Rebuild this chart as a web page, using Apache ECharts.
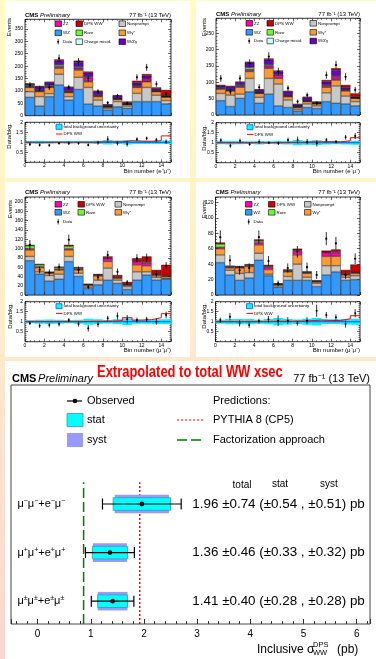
<!DOCTYPE html>
<html><head><meta charset="utf-8">
<script src="https://cdn.jsdelivr.net/npm/echarts/dist/echarts.min.js"></script>
<style>
html,body{margin:0;padding:0;width:376px;height:659px;overflow:hidden;
background:linear-gradient(180deg,#fffcc6 0%,#fff4c6 28%,#ffedc9 48%,#ffe4cf 62%,#fdd6d2 100%);}
.card{position:absolute;background:#fff;}
#c{position:absolute;left:0;top:0;width:376px;height:659px;}
</style></head><body>
<div class="card" style="left:5px;top:1px;width:185px;height:177px"></div>
<div class="card" style="left:196px;top:1px;width:180px;height:177px"></div>
<div class="card" style="left:5px;top:182px;width:185px;height:175px"></div>
<div class="card" style="left:196px;top:182px;width:180px;height:175px"></div>
<div class="card" style="left:5px;top:361px;width:371px;height:298px"></div>
<div id="c"></div>
<script>
// ---------------- DATA ----------------
const bins = ['0','1','2','3','4','5','6','7','8','9','10','11','12','13','14'];

// Panel A : e+mu+
const A_wz   = [74,39,77,124,63,106,47,39,23,36,30,57,57,57,48];
const A_np   = [23,38,12,43,14,49,67,24,7,21,9,33,57,26,13];
const A_wgs  = [17,20,25,24,16,29,23,14,5,9,6,24,23,14,14];
const A_cm   = [2,2,2,3,2,3,3,2,1,1,1,2,2,1,1];
const A_zz   = [3,3,3,5,3,6,14,4,2,3,2,5,10,3,2];
const A_rare = [4,2,4,6,2,4,3,2,1,1,1,2,2,1,1];
const A_wg   = [5,13,11,17,14,19,16,12,4,9,4,10,10,6,3];
const A_dps  = [2,3,3,5,3,6,5,4,3,3,4,8,7,6,22];
const A_data = [124,110,114,231,114,218,150,97,52,79,50,155,195,128,87];
const A_ratio= [0.90,0.87,0.85,0.95,0.95,0.95,0.87,0.98,1.15,0.95,0.92,1.15,1.20,1.12,1.03];
const A_unc  = [0.07,0.08,0.07,0.06,0.07,0.06,0.07,0.08,0.11,0.09,0.11,0.08,0.08,0.08,0.09];
const A_dpsR = [1.0,1.0,1.0,1.0,1.0,1.0,1.0,1.02,1.02,1.02,1.08,1.06,1.05,1.08,1.32];

// Panel B : e-mu-
const B_wz   = [44,26,51,71,36,64,28,23,12,23,20,41,36,34,28];
const B_np   = [22,35,13,41,18,48,67,23,5,11,8,27,53,24,13];
const B_wgs  = [13,13,21,21,12,31,17,10,6,7,6,17,18,16,10];
const B_cm   = [2,1,2,2,1,2,2,1,1,1,1,2,2,1,1];
const B_zz   = [2,2,3,5,2,6,9,3,2,2,1,5,9,3,1];
const B_rare = [2,1,2,6,1,3,2,1,1,1,1,2,2,1,1];
const B_wg   = [5,9,8,14,7,15,8,10,5,8,2,8,17,6,2];
const B_dps  = [2,2,2,3,2,4,3,3,2,3,2,5,6,7,10];
const B_data = [112,71,112,158,85,179,133,82,41,61,36,122,153,117,77];
const B_ratio= [1.12,0.85,1.10,0.92,1.05,1.00,0.97,1.13,1.13,1.05,0.97,1.13,1.05,1.27,1.33];
const B_unc  = [0.08,0.09,0.08,0.07,0.09,0.07,0.08,0.09,0.13,0.10,0.12,0.09,0.08,0.09,0.10];
const B_dpsR = [1.0,1.0,1.0,1.0,1.0,1.0,1.0,1.02,1.02,1.04,1.04,1.05,1.04,1.10,1.25];

// Panel C : mu+mu+
const C_wz   = [74,45,30,34,72,40,14,22,32,25,12,32,43,32,34];
const C_np   = [9,5,12,11,11,7,3,10,26,7,6,18,7,6,2];
const C_wgs  = [14,9,5,9,14,7,4,9,14,4,3,15,13,4,4];
const C_zz   = [3,2,1,2,3,2,1,2,7,2,1,7,6,2,1];
const C_rare = [6,4,1,3,5,2,1,1,1,1,1,1,2,1,1];
const C_dps  = [2,2,1,2,3,2,1,1,3,4,5,6,12,9,23];
const C_data = [108,54,48,60,119,54,17,38,86,50,27,79,80,45,63];
const C_ratio= [0.92,0.80,0.83,0.88,1.08,0.88,0.67,0.87,1.17,1.28,1.12,1.08,1.12,1.00,1.33];
const C_unc  = [0.08,0.10,0.11,0.10,0.08,0.10,0.15,0.12,0.09,0.12,0.16,0.10,0.10,0.12,0.12];
const C_dpsR = [1.0,1.0,1.0,1.0,1.0,1.0,1.02,1.02,1.03,1.05,1.20,1.08,1.10,1.20,1.40];

// Panel D : mu-mu-
const D_wz   = [42,26,19,22,45,25,10,19,19,19,11,26,30,19,20];
const D_np   = [10,6,9,7,9,2,2,5,21,4,4,12,8,4,5];
const D_wgs  = [8,3,7,8,11,6,1.5,6,12,5,2,12,12,3,3];
const D_zz   = [2,1,1,1,3,3,0.5,1,5,1,0.5,5,5,1,1];
const D_rare = [4,1,0.5,1,2,1,0.5,1,1,0.5,0.5,0.5,1,0.5,0.5];
const D_dps  = [2,1,1,1,2,2,0.5,1,2,1,1,2,3,5,10];
const D_data = [75,45,32,35,75,44,15,35,56,36,26,73,67,26,47];
const D_ratio= [1.08,1.25,0.92,0.83,1.03,1.12,1.05,1.05,0.92,1.05,1.55,1.33,1.22,0.88,1.42];
const D_unc  = [0.10,0.13,0.13,0.13,0.10,0.13,0.18,0.14,0.11,0.15,0.19,0.12,0.12,0.14,0.15];
const D_dpsR = [1.0,1.0,1.0,1.0,1.0,1.02,1.02,1.02,1.03,1.05,1.08,1.06,1.06,1.15,1.30];

// Bottom summary plot
const chanSign  = ['±','+','−'];          // rows 0,1,2 (bottom to top)
const xsec      = [1.41,1.36,1.96];
const errTotal  = [0.40,0.46,0.74];
const errStat   = [0.28,0.33,0.54];
const errSyst   = [0.28,0.32,0.51];
const pythiaPred = 1.92;
const factPred   = 0.865;

// ---------------- STYLE / LAYOUT ----------------
const F = "'Liberation Sans', Arial, Helvetica, sans-serif";
const compDefs = [
  {k:'wz',   name:'WZ',            color:'#3399ff'},
  {k:'np',   name:'Nonprompt',     color:'#c8c8c8'},
  {k:'wgs',  name:'Wγ*',           color:'#ff9933'},
  {k:'cm',   name:'Charge misid.', color:'#ccffff'},
  {k:'zz',   name:'ZZ',            color:'#ff00aa'},
  {k:'rare', name:'Rare',          color:'#66ff33'},
  {k:'wg',   name:'W/Zγ',          color:'#6600cc'},
  {k:'dps',  name:'DPS WW',        color:'#cc0000'}
];
const colorOf = {}; compDefs.forEach(c => colorOf[c.name] = c.color);

const panelData = [
  {comps:{wz:A_wz,np:A_np,wgs:A_wgs,cm:A_cm,zz:A_zz,rare:A_rare,wg:A_wg,dps:A_dps}, data:A_data, ratio:A_ratio, unc:A_unc, dpsR:A_dpsR, label:'Bin number (e⁺μ⁺)', full:true},
  {comps:{wz:B_wz,np:B_np,wgs:B_wgs,cm:B_cm,zz:B_zz,rare:B_rare,wg:B_wg,dps:B_dps}, data:B_data, ratio:B_ratio, unc:B_unc, dpsR:B_dpsR, label:'Bin number (e⁻μ⁻)', full:true},
  {comps:{wz:C_wz,np:C_np,wgs:C_wgs,zz:C_zz,rare:C_rare,dps:C_dps}, data:C_data, ratio:C_ratio, unc:C_unc, dpsR:C_dpsR, label:'Bin number (μ⁺μ⁺)', full:false},
  {comps:{wz:D_wz,np:D_np,wgs:D_wgs,zz:D_zz,rare:D_rare,dps:D_dps}, data:D_data, ratio:D_ratio, unc:D_unc, dpsR:D_dpsR, label:'Bin number (μ⁻μ⁻)', full:false}
];
const panelLayout = [
  {left:25,    top:19.3, width:146,   height:96.4, rTop:122.3, rH:40, ymax:389, yint:50, evX:9.5, evY:18,  dbY:123, legCols:[30,51,94], legRows:[4.4,13.5,22.4]},
  {left:216,   top:18.3, width:144,   height:96.7, rTop:122.7, rH:40, ymax:296, yint:50, evX:204, evY:18,  dbY:125, legCols:[30,51,94], legRows:[5,14,22.7]},
  {left:25,    top:197,  width:146,   height:98,   rTop:301.7, rH:40, ymax:211, yint:20, evX:10,  evY:200, dbY:303, legCols:[30,53,90], legRows:[7.3,15.3,24.7]},
  {left:215.5, top:197,  width:144.5, height:98,   rTop:301.7, rH:40, ymax:127, yint:20, evX:204, evY:200, dbY:303, legCols:[30,53,89], legRows:[7.3,15.3,24.7]}
];
const legFull  = [['ZZ','DPS WW','Nonprompt'],['WZ','Rare','Wγ*'],['Data','Charge misid.','W/Zγ']];
const legShort = [['ZZ','DPS WW','Nonprompt'],['WZ','Rare','Wγ*'],['Data']];

const option = {animation:false, grid:[], xAxis:[], yAxis:[], series:[], graphic:[]};
const G = option.graphic;

function txt(x, y, text, st, extra){
  return Object.assign({type:'text', x:x, y:y, z:100, silent:true,
    style:Object.assign({text:text, fill:'#000', fontFamily:F, fontSize:6,
      align:'left', textAlign:'left', verticalAlign:'middle', textVerticalAlign:'middle'}, st||{})}, extra||{});
}
function gridDef(l,t,w,h,bc,bw){
  return {left:l, top:t, width:w, height:h, show:true, borderColor:bc, borderWidth:bw,
          backgroundColor:'rgba(0,0,0,0)', containLabel:false, outerBoundsMode:'none'};
}
function valX(g,pos,labels){
  return {type:'value', gridIndex:g, position:pos, min:0, max:15, interval:2,
    axisLine:{show:false, onZero:false},
    axisTick:{show:true, inside:true, length:3, lineStyle:{color:'#000', width:0.6}},
    minorTick:{show:true, splitNumber:4, length:1.5, lineStyle:{color:'#000', width:0.5}},
    splitLine:{show:false}, minorSplitLine:{show:false},
    axisLabel:{show:labels, fontSize:5, margin:1, color:'#000', fontFamily:F,
      formatter:v => (v < 15 && Math.abs(v % 2) < 1e-6) ? String(v) : ''}};
}
function valY(g,pos,labels,min,max,intv,minor){
  return {type:'value', gridIndex:g, position:pos, min:min, max:max, interval:intv,
    axisLine:{show:false, onZero:false},
    axisTick:{show:true, inside:true, length:3, lineStyle:{color:'#000', width:0.6}},
    minorTick:{show:true, splitNumber:minor, length:1.5, lineStyle:{color:'#000', width:0.5}},
    splitLine:{show:false}, minorSplitLine:{show:false},
    axisLabel:{show:labels, fontSize:5, margin:2, color:'#000', fontFamily:F,
      formatter:v => {
        if (v === 0 && max <= 2) return '';
        const q = v / intv; return Math.abs(q - Math.round(q)) < 1e-6 ? String(+v.toFixed(2)) : '';
      }}};
}
function errRender(r){
  return function(params, api){
    const x = api.value(0), y = api.value(1), e = api.value(2);
    const p = api.coord([x,y]), lo = api.coord([x,y-e]), hi = api.coord([x,y+e]);
    return {type:'group', children:[
      {type:'line', shape:{x1:p[0], y1:lo[1], x2:p[0], y2:hi[1]}, style:{stroke:'#000', lineWidth:0.8}},
      {type:'circle', shape:{cx:p[0], cy:p[1], r:r}, style:{fill:'#000'}}
    ]};
  };
}
function bandRender(params, api){
  const i = api.value(0), u = api.value(1);
  const a = api.coord([i, 1+u]), b = api.coord([i+1, 1-u]);
  return {type:'rect', shape:{x:a[0], y:a[1], width:b[0]-a[0], height:b[1]-a[1]}, style:{fill:'#00f0ff'}};
}

panelData.forEach((pd, pi) => {
  const L = panelLayout[pi];
  const gm = option.grid.length, gr = gm + 1;
  option.grid.push(gridDef(L.left, L.top, L.width, L.height, '#000', 0.8));
  option.grid.push(gridDef(L.left, L.rTop, L.width, L.rH, '#000', 0.8));
  const xi = option.xAxis.length;
  option.xAxis.push({type:'category', gridIndex:gm, data:bins, show:false, boundaryGap:true});
  option.xAxis.push(valX(gm,'bottom',false));
  option.xAxis.push(valX(gm,'top',false));
  option.xAxis.push(valX(gr,'bottom',true));
  option.xAxis.push(valX(gr,'top',false));
  const yi = option.yAxis.length;
  option.yAxis.push(valY(gm,'left',true,0,L.ymax,L.yint,5));
  option.yAxis.push(valY(gm,'right',false,0,L.ymax,L.yint,5));
  option.yAxis.push(valY(gr,'left',true,0,2,0.5,5));
  option.yAxis.push(valY(gr,'right',false,0,2,0.5,5));

  compDefs.forEach(c => {
    const arr = pd.comps[c.k]; if (!arr) return;
    option.series.push({type:'bar', name:c.name, xAxisIndex:xi, yAxisIndex:yi, stack:'s'+gm,
      data:arr, barCategoryGap:'0%', barGap:'0%', silent:true,
      itemStyle:{color:c.color, borderColor:'#000', borderWidth:0.4}});
  });
  option.series.push({type:'custom', xAxisIndex:xi+1, yAxisIndex:yi, silent:true, z:5,
    data:pd.data.map((d,i)=>[i+0.5, d, Math.sqrt(d)]), renderItem:errRender(1.1)});
  // ratio panel
  option.series.push({type:'custom', xAxisIndex:xi+3, yAxisIndex:yi+2, silent:true, clip:true,
    data:pd.unc.map((u,i)=>[i,u]), renderItem:bandRender});
  option.series.push({type:'line', xAxisIndex:xi+3, yAxisIndex:yi+2, silent:true, symbol:'none',
    data:[[0,1],[15,1]], lineStyle:{color:'#1a4dff', width:1}});
  option.series.push({type:'line', step:'end', xAxisIndex:xi+3, yAxisIndex:yi+2, silent:true, symbol:'none',
    data:pd.dpsR.map((v,i)=>[i,v]).concat([[15, pd.dpsR[pd.dpsR.length-1]]]),
    lineStyle:{color:'#ff0000', width:1}});
  option.series.push({type:'custom', xAxisIndex:xi+3, yAxisIndex:yi+2, silent:true, z:5,
    data:pd.ratio.map((r,i)=>[i+0.5, r, r/Math.sqrt(pd.data[i])]), renderItem:errRender(1)});

  // texts
  const right = L.left + L.width;
  G.push(txt(L.left, L.top-4.2, '{b|CMS} {i|Preliminary}', {rich:{
    b:{fontWeight:'bold', fontSize:6, fontFamily:F, fill:'#000'},
    i:{fontStyle:'italic', fontSize:6, fontFamily:F, fill:'#000'}}}));
  G.push(txt(right, L.top-4.2, '77 fb⁻¹ (13 TeV)', {align:'right', textAlign:'right', fontSize:6}));
  G.push(txt(L.evX, L.evY, 'Events', {align:'right', textAlign:'right', fontSize:6}, {rotation:Math.PI/2}));
  G.push(txt(L.evX, L.dbY, 'Data/bkg.', {align:'right', textAlign:'right', fontSize:6}, {rotation:Math.PI/2}));
  G.push(txt(right, L.rTop+L.rH+9, pd.label, {align:'right', textAlign:'right', fontSize:6}));

  // legend
  const rows = pd.full ? legFull : legShort;
  rows.forEach((row, ri) => row.forEach((nm, ci) => {
    const x = L.left + L.legCols[ci], y = L.top + L.legRows[ri];
    if (nm === 'Data') {
      G.push({type:'line', z:100, silent:true, shape:{x1:x+3.2, y1:y-2.8, x2:x+3.2, y2:y+2.8}, style:{stroke:'#000', lineWidth:0.7}});
      G.push({type:'circle', z:100, silent:true, shape:{cx:x+3.2, cy:y, r:1}, style:{fill:'#000'}});
    } else {
      G.push({type:'rect', z:100, silent:true, shape:{x:x, y:y-2.8, width:6.5, height:5.6}, style:{fill:colorOf[nm], stroke:'#000', lineWidth:0.6}});
    }
    G.push(txt(x+8, y, nm, {fontSize:4.4}));
  }));
  const rx = L.left + 31, ry = L.rTop + 4.5;
  G.push({type:'rect', z:100, silent:true, shape:{x:rx, y:ry-2.5, width:6, height:5}, style:{fill:'#00ffff', stroke:'#1a4dff', lineWidth:0.8}});
  G.push(txt(rx+7.5, ry, 'total background uncertainty', {fontSize:4.4}));
  G.push({type:'line', z:100, silent:true, shape:{x1:rx, y1:ry+7.2, x2:rx+6.5, y2:ry+7.2}, style:{stroke:'#ff0000', lineWidth:1}});
  G.push(txt(rx+7.5, ry+7.2, 'DPS WW', {fontSize:4.4}));
});

// ---------------- bottom summary plot ----------------
const gb = option.grid.length;
option.grid.push(gridDef(11, 385, 359, 239, '#444', 1));
const xb = option.xAxis.length;
option.xAxis.push({type:'value', gridIndex:gb, position:'bottom', min:-0.5, max:6.25, splitNumber:7,
  axisLine:{show:false, onZero:false},
  axisTick:{show:true, inside:true, length:5, lineStyle:{color:'#333', width:1}},
  minorTick:{show:true, splitNumber:5, length:3, lineStyle:{color:'#333', width:1}},
  splitLine:{show:false}, minorSplitLine:{show:false},
  axisLabel:{fontSize:10, margin:5, color:'#000', fontFamily:F,
    formatter:v => Math.abs(v - Math.round(v)) < 1e-6 ? String(Math.round(v)) : ''}});
const yb = option.yAxis.length;
option.yAxis.push({type:'value', gridIndex:gb, min:-0.47, max:4.45, show:false,
  axisLine:{onZero:false}, splitLine:{show:false}});

const rowsData = xsec.map((v,i)=>[v, i, errTotal[i], errStat[i], errSyst[i]]);
option.series.push({type:'line', xAxisIndex:xb, yAxisIndex:yb, silent:true, symbol:'none', z:3,
  data:[[pythiaPred,-0.47],[pythiaPred,2.45]], lineStyle:{color:'#ff0000', width:1.5, type:[2,2]}});
option.series.push({type:'line', xAxisIndex:xb, yAxisIndex:yb, silent:true, symbol:'none', z:3,
  data:[[factPred,-0.47],[factPred,2.45]], lineStyle:{color:'#007a00', width:1.5, type:[10,4]}});
option.series.push({type:'custom', xAxisIndex:xb, yAxisIndex:yb, silent:true, z:4, data:rowsData,
  renderItem:function(params, api){
    const v=api.value(0), r=api.value(1), t=api.value(2), st=api.value(3), sy=api.value(4);
    const c = api.coord([v,r]);
    const syL = api.coord([v-sy,r])[0], syR = api.coord([v+sy,r])[0];
    const stL = api.coord([v-st,r])[0], stR = api.coord([v+st,r])[0];
    const tL = api.coord([v-t,r])[0], tR = api.coord([v+t,r])[0];
    return {type:'group', children:[
      {type:'rect', shape:{x:syL, y:c[1]-9.3, width:syR-syL, height:18.6}, style:{fill:'#9999ff'}},
      {type:'rect', shape:{x:stL, y:c[1]-6.3, width:stR-stL, height:12.6}, style:{fill:'#00ffff', stroke:'#3a9aa8', lineWidth:0.8}},
      {type:'line', shape:{x1:tL, y1:c[1], x2:tR, y2:c[1]}, style:{stroke:'#000', lineWidth:1.2}},
      {type:'line', shape:{x1:tL, y1:c[1]-5.5, x2:tL, y2:c[1]+5.5}, style:{stroke:'#000', lineWidth:1.2}},
      {type:'line', shape:{x1:tR, y1:c[1]-5.5, x2:tR, y2:c[1]+5.5}, style:{stroke:'#000', lineWidth:1.2}},
      {type:'circle', shape:{cx:c[0], cy:c[1], r:2.4}, style:{fill:'#000'}}
    ]};
  }});
option.series.push({type:'custom', xAxisIndex:xb, yAxisIndex:yb, silent:true, z:6, data:rowsData,
  renderItem:function(params, api){
    const i = params.dataIndex, r = api.value(1);
    const s = chanSign[i];
    const pl = api.coord([-0.38, r]), pv = api.coord([2.91, r]);
    const sup = '{s|' + s + '}';
    return {type:'group', children:[
      {type:'text', x:pl[0], y:pl[1], style:{text:'μ'+sup+'μ'+sup+'+e'+sup+'μ'+sup,
        fontFamily:F, fontSize:11, fill:'#000', align:'left', textAlign:'left', verticalAlign:'middle', textVerticalAlign:'middle',
        lineHeight:13, rich:{s:{fontSize:7, fontFamily:F, fill:'#000', verticalAlign:'top', lineHeight:8}}}},
      {type:'text', x:pv[0], y:pv[1], style:{text:
        xsec[i].toFixed(2)+' ±'+errTotal[i].toFixed(2)+' (±'+errStat[i].toFixed(2)+' , ±'+errSyst[i].toFixed(2)+') pb',
        fontFamily:F, fontSize:13.4, fill:'#000', align:'left', textAlign:'left', verticalAlign:'middle', textVerticalAlign:'middle'}}
    ]};
  }});

// bottom texts
G.push(txt(12, 378.5, '{b|CMS} {i|Preliminary}', {rich:{
  b:{fontWeight:'bold', fontSize:11, fontFamily:F, fill:'#000'},
  i:{fontStyle:'italic', fontSize:11, fontFamily:F, fill:'#000'}}}));
G.push(txt(97, 373, 'Extrapolated to total WW xsec', {fontSize:16, fontWeight:'bold', fill:'#ff0000'}, {scaleX:0.81}));
G.push(txt(370, 378.5, '77 fb⁻¹ (13 TeV)', {fontSize:11, align:'right', textAlign:'right'}));
// legend
G.push({type:'line', z:100, silent:true, shape:{x1:67, y1:401, x2:82, y2:401}, style:{stroke:'#000', lineWidth:1.2}});
G.push({type:'circle', z:100, silent:true, shape:{cx:75, cy:401, r:2.3}, style:{fill:'#000'}});
G.push(txt(87, 401, 'Observed', {fontSize:11}));
G.push({type:'rect', z:100, silent:true, shape:{x:67, y:413.5, width:16, height:13}, style:{fill:'#00ffff', stroke:'#3a9aa8', lineWidth:0.8}});
G.push(txt(87, 420, 'stat', {fontSize:11}));
G.push({type:'rect', z:100, silent:true, shape:{x:67, y:433, width:16, height:14}, style:{fill:'#9999ff'}});
G.push(txt(87, 440, 'syst', {fontSize:11}));
G.push(txt(213, 401, 'Predictions:', {fontSize:11}));
G.push({type:'line', z:100, silent:true, shape:{x1:177, y1:420, x2:205, y2:420}, style:{stroke:'#ff0000', lineWidth:1.2, lineDash:[2,2]}});
G.push(txt(213, 420, 'PYTHIA 8 (CP5)', {fontSize:11}));
G.push({type:'line', z:100, silent:true, shape:{x1:177, y1:440, x2:205, y2:440}, style:{stroke:'#007a00', lineWidth:1.5, lineDash:[10,4]}});
G.push(txt(213, 440, 'Factorization approach', {fontSize:11}));
G.push(txt(242, 485, 'total', {fontSize:10, align:'center', textAlign:'center'}));
G.push(txt(280, 484, 'stat', {fontSize:10, align:'center', textAlign:'center'}));
G.push(txt(329, 484, 'syst', {fontSize:10, align:'center', textAlign:'center'}));
// axis title
G.push(txt(257, 649.5, 'Inclusive σ', {fontSize:12}));
G.push(txt(313, 645, 'DPS', {fontSize:7.5}));
G.push(txt(313, 653, 'WW', {fontSize:7.5}));
G.push(txt(337, 649.5, '(pb)', {fontSize:12}));

const chart = echarts.init(document.getElementById('c'), null, {renderer:'canvas'});
chart.setOption(option);
</script>
</body></html>
